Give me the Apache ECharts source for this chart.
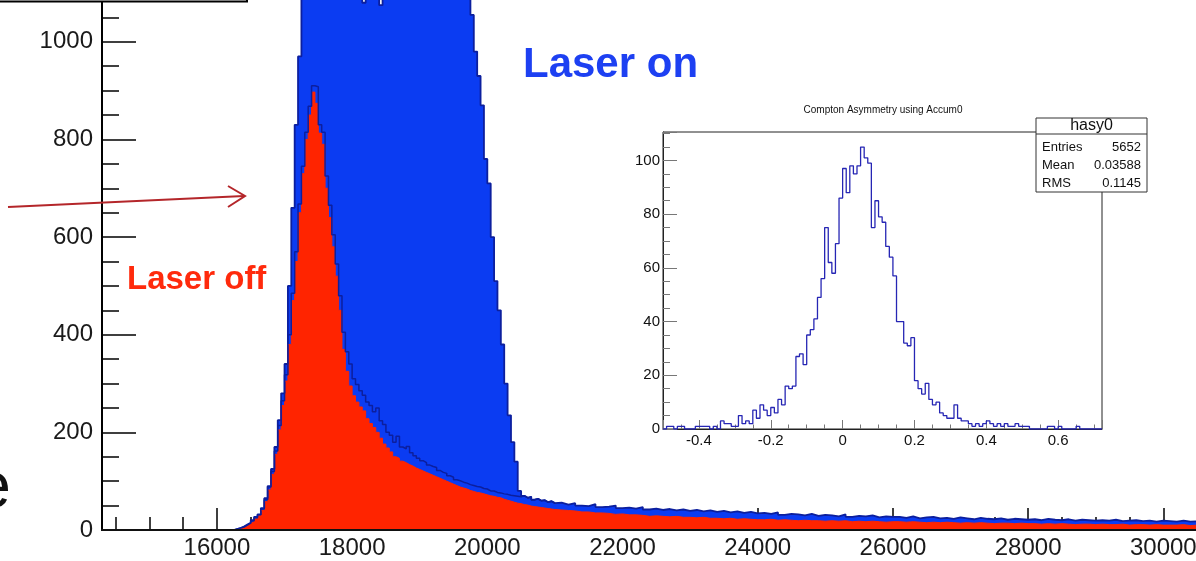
<!DOCTYPE html>
<html>
<head>
<meta charset="utf-8">
<script src="https://cdn.jsdelivr.net/npm/echarts@6/dist/echarts.min.js"></script>
<style>
  html, body { margin: 0; padding: 0; background: #fff; }
  #main { width: 1196px; height: 561px; }
</style>
</head>
<body>
<div id="main"></div>
<script>
// spectrum: 50-wide bins around the edge, 100-wide bins in the tail
const lowEdge = 14300;
const peakStart = 16200, peakWidth = 50;
const tailStart = 21000, tailWidth = 100;

const laserOnPeak = [
  0, 2, 4, 7, 11, 15, 20, 27, 32, 45,
  65, 90, 125, 170, 225, 280, 340, 500, 660, 830,
  970, 1100, 1150, 1170, 1185, 1190, 1200, 1195, 1205, 1200,
  1210, 1200, 1215, 1205, 1210, 1200, 1195, 1190, 1160, 1080,
  1150, 1160, 1160, 1140, 1075, 1150, 1160, 1160, 1150, 1090,
  1170, 1160, 1170, 1165, 1170, 1160, 1170, 1165, 1160, 1165,
  1155, 1160, 1150, 1155, 1150, 1145, 1140, 1135, 1130, 1120,
  1100, 1055, 980, 930, 870, 760, 710, 600, 510, 450,
  380, 300, 235, 180, 140, 80, 70, 66, 68, 62,
  64, 60, 61, 57, 59, 55
];
const laserOffPeak = [
  0, 1, 3, 5, 9, 13, 17, 23, 29, 40,
  58, 82, 114, 155, 205, 255, 305, 380, 470, 550,
  650, 730, 800, 850, 897, 874, 813, 790, 700, 640,
  580, 520, 450, 370, 325, 295, 275, 262, 252, 244,
  228, 218, 210, 200, 188, 176, 168, 160, 150, 147,
  141, 138, 134, 131, 127, 124, 121, 118, 115, 112,
  109, 106, 103, 100, 97, 94, 91, 88, 86, 84,
  81, 79, 77, 76, 74, 72, 70, 69, 67, 66,
  63, 61, 59, 57, 55, 54, 52, 51, 49, 48,
  47, 46, 45, 44, 43, 42
];
// dark outline drawn just above the laser-off fill
const offOutlinePeak = [
  0, 2, 4, 6, 10, 14, 19, 25, 31, 43,
  62, 88, 120, 162, 214, 265, 318, 400, 485, 570,
  668, 745, 815, 868, 910, 908, 830, 815, 725, 665,
  605, 545, 480, 405, 365, 340, 310, 298, 285, 276,
  262, 255, 242, 250, 224, 216, 200, 194, 180, 192,
  170, 166, 171, 158, 152, 147, 142, 138, 133, 130,
  128, 122, 118, 116, 111, 108, 103, 101, 98, 96,
  93, 91, 89, 88, 85, 84, 80, 80, 77, 76,
  74, 73, 71, 70, 69, 68, 70, 66, 68, 62,
  64, 60, 61, 57, 59, 55
];
const laserOnTail = [
  56, 52, 55, 50, 49, 53, 47, 48, 50, 45,
  46, 44, 47, 42, 44, 41, 43, 40, 42, 39,
  41, 38, 40, 37, 39, 36, 38, 35, 37, 34,
  35, 33, 36, 31, 33, 32, 30, 33, 29, 31,
  30, 28, 32, 27, 29, 28, 30, 26, 28, 27,
  27, 25, 28, 24, 26, 27, 24, 25, 23, 26,
  24, 22, 25, 23, 22, 24, 21, 23, 22, 21,
  22, 20, 23, 21, 20, 22, 19, 21, 20, 19,
  20, 19, 21, 18, 19, 20, 18, 19, 17, 19,
  18, 17, 19, 17, 18, 16, 17
];
const laserOffTail = [
  41, 40, 39, 37, 37, 35, 35, 34, 32, 33,
  31, 31, 30, 28, 29, 28, 27, 28, 26, 26,
  25, 26, 24, 24, 23, 24, 22, 23, 22, 21,
  21, 22, 20, 21, 20, 19, 20, 19, 19, 18,
  19, 18, 19, 17, 18, 17, 18, 17, 16, 17,
  17, 16, 17, 16, 15, 16, 15, 16, 15, 14,
  15, 14, 15, 14, 13, 14, 14, 13, 14, 13,
  13, 12, 13, 12, 13, 12, 11, 12, 12, 11,
  12, 11, 11, 12, 10, 11, 11, 10, 11, 10,
  10, 10, 11, 9, 10, 10, 9
];

// inset: Compton asymmetry, bins of 0.01 from -0.5
const asymStart = -0.5, asymWidth = 0.01;
const asymCounts = [
  0, 1, 1, 0, 1, 1, 0, 0, 0, 1,
  1, 1, 1, 0, 1, 0, 3, 2, 2, 1,
  1, 5, 2, 3, 2, 7, 4, 9, 7, 5,
  8, 6, 11, 9, 16, 15, 16, 27, 28, 24,
  35, 37, 41, 49, 56, 75, 62, 58, 69, 86,
  97, 88, 98, 95, 98, 105, 101, 99, 75, 85,
  79, 77, 68, 64, 57, 40, 40, 32, 31, 34,
  18, 15, 13, 17, 11, 9, 10, 6, 5, 4,
  4, 9, 4, 3, 3, 2, 1, 2, 1, 2,
  3, 2, 1, 2, 1, 2, 1, 1, 2, 1,
  1, 1, 0, 0, 0, 0, 0, 1, 1, 0,
  1, 0, 0, 0, 0, 1, 0, 0, 0, 0,
  0, 0
];
const statsRows = [['Entries', '5652'], ['Mean', '0.03588'], ['RMS', '0.1145']];

function bins(start, width, values) {
  return values.map((v, i) => [+(start + i * width).toFixed(4), v]);
}
function closeHist(data, end) {
  data.push([end, data[data.length - 1][1]]);
  return data;
}
const tailEnd = tailStart + laserOnTail.length * tailWidth;
const onData = closeHist([[lowEdge, 0]].concat(bins(peakStart, peakWidth, laserOnPeak), bins(tailStart, tailWidth, laserOnTail)), tailEnd);
const offData = closeHist([[lowEdge, 0]].concat(bins(peakStart, peakWidth, laserOffPeak), bins(tailStart, tailWidth, laserOffTail)), tailEnd);
const outlineData = closeHist(bins(peakStart, peakWidth, offOutlinePeak), tailStart);
const asymData = closeHist(bins(asymStart, asymWidth, asymCounts), 0.722);
asymData[asymData.length - 1][1] = 0;

const FONT = 'Liberation Sans';
const navy = '#0c1f9e';

const chart = echarts.init(document.getElementById('main'));
const txt = (text, x, y, size, color, align, weight) => ({
  type: 'text', z: 20,
  style: {
    text: text, x: x, y: y, fill: color,
    font: (weight || 'normal') + ' ' + size + 'px "' + FONT + '"',
    textAlign: align || 'left', align: align || 'left',
    textVerticalAlign: 'middle', verticalAlign: 'middle'
  }
});

const statsGraphics = [
  { type: 'rect', z: 20, shape: { x: 1036, y: 118, width: 111, height: 74 }, style: { fill: '#fff', stroke: '#333', lineWidth: 1 } },
  { type: 'line', z: 21, shape: { x1: 1036, y1: 134, x2: 1147, y2: 134 }, style: { stroke: '#333', lineWidth: 1 } },
  txt('hasy0', 1091.5, 126, 16, '#111', 'center')
];
statsRows.forEach((r, i) => {
  statsGraphics.push(txt(r[0], 1042, 147 + i * 18, 13, '#111', 'left'));
  statsGraphics.push(txt(r[1], 1141, 147 + i * 18, 13, '#111', 'right'));
});

const mainX = { gridIndex: 0, type: 'value', min: lowEdge, max: 30779, splitNumber: 8 };

const option = {
  animation: false,
  backgroundColor: '#fff',
  grid: [
    { left: 102, top: -7, width: 1114, height: 537, containLabel: false, outerBoundsMode: 'none' },
    { left: 663, top: 132, width: 439, height: 297, containLabel: false, outerBoundsMode: 'none',
      show: true, borderColor: '#222', borderWidth: 1, backgroundColor: '#fff' }
  ],
  xAxis: [
    Object.assign({}, mainX, {
      position: 'bottom',
      axisLine: { show: true, onZero: false, lineStyle: { color: '#000', width: 2 } },
      axisTick: { show: true, inside: true, length: 22, lineStyle: { color: '#000', width: 1.5 } },
      minorTick: { show: true, splitNumber: 4, length: 13, lineStyle: { color: '#000', width: 1.5 } },
      axisLabel: {
        fontSize: 24, fontFamily: FONT, color: '#1a1a1a', margin: 6,
        showMinLabel: false, showMaxLabel: false,
        formatter: v => (v % 2000 === 0 ? String(v) : '')
      },
      splitLine: { show: false }, minorSplitLine: { show: false }
    }),
    {
      gridIndex: 1, type: 'value', min: -0.5, max: 0.722, splitNumber: 6,
      axisLine: { show: true, onZero: false, lineStyle: { color: '#222', width: 1 } },
      axisTick: { show: true, inside: true, length: 9, lineStyle: { color: '#777', width: 1 } },
      minorTick: { show: true, splitNumber: 4, length: 4.5, lineStyle: { color: '#777', width: 1 } },
      axisLabel: {
        fontSize: 15, fontFamily: FONT, color: '#111', margin: 4,
        showMinLabel: false, showMaxLabel: false,
        formatter: v => String(+v.toFixed(1))
      },
      splitLine: { show: false }
    },
    // frame line redrawn over the fills
    Object.assign({}, mainX, {
      position: 'bottom', z: 5,
      axisLine: { show: true, onZero: false, lineStyle: { color: '#111', width: 2 } },
      axisTick: { show: false }, axisLabel: { show: false }, splitLine: { show: false }
    })
  ],
  yAxis: [
    {
      gridIndex: 0, type: 'value', min: 0, max: 1100, interval: 200,
      axisLine: { show: true, onZero: false, lineStyle: { color: '#000', width: 2 } },
      axisTick: { show: true, inside: true, length: 34, lineStyle: { color: '#000', width: 1.5 } },
      minorTick: { show: true, splitNumber: 4, length: 17, lineStyle: { color: '#000', width: 1.5 } },
      axisLabel: {
        fontSize: 24, fontFamily: FONT, color: '#1a1a1a', margin: 9,
        showMaxLabel: false, formatter: v => (v % 200 === 0 ? String(v) : '')
      },
      splitLine: { show: false }
    },
    {
      gridIndex: 1, type: 'value', min: 0, max: 110.6, interval: 20,
      axisLine: { show: true, onZero: false, lineStyle: { color: '#222', width: 1 } },
      axisTick: { show: true, inside: true, length: 14, lineStyle: { color: '#777', width: 1 } },
      minorTick: { show: true, splitNumber: 4, length: 7, lineStyle: { color: '#777', width: 1 } },
      axisLabel: {
        fontSize: 15, fontFamily: FONT, color: '#111', margin: 3,
        showMaxLabel: false, formatter: v => (v % 20 === 0 ? String(v) : '')
      },
      splitLine: { show: false }
    }
  ],
  series: [
    {
      name: 'Laser on', type: 'line', step: 'end', xAxisIndex: 0, yAxisIndex: 0,
      data: onData, symbol: 'none', silent: true,
      lineStyle: { color: navy, width: 1.8 },
      areaStyle: { color: '#0b3cf2', opacity: 1 }
    },
    {
      name: 'Laser off', type: 'line', step: 'end', xAxisIndex: 0, yAxisIndex: 0,
      data: offData, symbol: 'none', silent: true,
      lineStyle: { color: '#ff2400', width: 1 },
      areaStyle: { color: '#ff2400', opacity: 1 }
    },
    {
      name: 'outline', type: 'line', step: 'end', xAxisIndex: 0, yAxisIndex: 0,
      data: outlineData, symbol: 'none', silent: true,
      lineStyle: { color: navy, width: 1.5 }
    },
    {
      name: 'hasy0', type: 'line', step: 'end', xAxisIndex: 1, yAxisIndex: 1,
      data: asymData, symbol: 'none', silent: true,
      lineStyle: { color: '#2626b4', width: 1.3 }
    }
  ],
  graphic: [
    { type: 'rect', z: 20, shape: { x: -10, y: -40, width: 257, height: 41.5 }, style: { fill: '#fff', stroke: '#000', lineWidth: 2 } },
    txt('Laser on', 523, 65, 42, '#1d40f2', 'left', 'bold'),
    txt('Laser off', 127, 279.5, 33, '#ff2a0c', 'left', 'bold'),
    txt('e', 11, 489.5, 65, '#111', 'right'),
    { type: 'line', z: 20, shape: { x1: 8, y1: 207, x2: 244, y2: 196 }, style: { stroke: '#b4262a', lineWidth: 2 } },
    { type: 'polyline', z: 20, shape: { points: [[228, 186], [245, 196], [228, 207]] }, style: { stroke: '#b4262a', lineWidth: 2, fill: null } },
    txt('Compton Asymmetry using Accum0', 883, 110, 10, '#111', 'center')
  ].concat(statsGraphics)
};
chart.setOption(option);
</script>
</body>
</html>
